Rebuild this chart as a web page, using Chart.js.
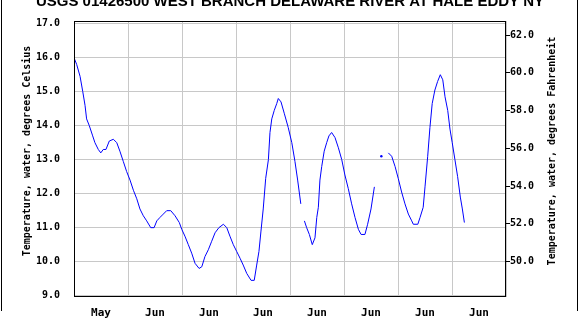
<!DOCTYPE html>
<html><head><meta charset="utf-8">
<script src="https://cdn.jsdelivr.net/npm/chart.js@4/dist/chart.umd.min.js"></script>
<style>html,body{margin:0;padding:0;background:#fff}#wrap{width:580px;height:320px;position:relative}</style>
</head><body><div id="wrap"><canvas id="c"></canvas></div>
<script>
const chartTitle = 'USGS 01426500 WEST BRANCH DELAWARE RIVER AT HALE EDDY NY';
const leftAxisTitle = 'Temperature, water, degrees Celsius';
const rightAxisTitle = 'Temperature, water, degrees Fahrenheit';
const dayLabels = ['May','Jun','Jun','Jun','Jun','Jun','Jun','Jun'];
const dayTickHours = [12,36,60,84,108,132,156,180];
const celsiusTicks = [9,10,11,12,13,14,15,16,17];
const fahrenheitTicks = [50,52,54,56,58,60,62];

// hours since start of the first day (May 31), null = gap in record
const hours = [
  0,1.2,2.7,3.9,4.9,5.6,6.8,8.3,9.3,10.8,11.9,13.0,14.2,15.7,17.5,19.0,20.4,21.9,23.4,
  24.9,26.4,27.9,29.3,30.8,32.3,34.1,35.6,36.8,38.2,39.7,41.2,43.0,44.9,46.8,
  47.9,49.3,50.8,52.3,53.8,55.6,56.8,58.2,59.7,61.2,62.7,64.4,66.4,67.9,69.3,70.8,
  72.3,73.8,75.2,76.8,78.7,80.1,81.2,82.2,83.1,84.1,85.2,86.4,87.1,87.9,89.0,90.1,90.8,
  92.0,93.5,95.2,96.8,98.2,99.4,100.8,
  101.6,
  102.4,103.4,104.6,105.9,107.1,107.9,108.6,109.3,110.1,111.2,112.3,113.3,114.5,116.0,
  117.5,119.0,120.4,121.9,123.4,124.9,126.4,127.6,129.3,130.5,132.0,133.5,
  135.0,
  136.6,
  138.0,
  139.7,141.2,142.7,144.1,145.6,147.1,148.6,150.1,150.8,152.8,153.8,155.2,156.0,157.2,
  158.2,159.2,160.4,161.6,162.8,163.9,164.9,166.1,167.1,168.1,169.3,170.5,171.7,172.6,173.5
];
const tempC = [
  16.0,15.8,15.45,15.0,14.6,14.2,14.0,13.7,13.5,13.3,13.2,13.3,13.3,13.55,13.6,13.5,13.25,12.95,12.65,
  12.4,12.1,11.85,11.55,11.35,11.2,11.0,11.0,11.2,11.3,11.4,11.5,11.5,11.35,11.15,
  10.95,10.75,10.5,10.25,9.95,9.8,9.85,10.15,10.35,10.6,10.85,11.0,11.1,11.0,10.75,10.5,
  10.3,10.1,9.9,9.65,9.45,9.45,9.9,10.3,10.9,11.55,12.45,13.0,13.8,14.2,14.45,14.65,14.8,
  14.7,14.35,13.95,13.5,12.95,12.4,11.7,
  null,
  11.2,11.0,10.8,10.5,10.7,11.3,11.6,12.4,12.8,13.25,13.5,13.7,13.8,13.65,
  13.35,13.0,12.55,12.15,11.7,11.3,10.95,10.8,10.8,11.1,11.55,12.2,
  null,
  13.1,
  null,
  13.2,13.1,12.8,12.45,12.05,11.7,11.4,11.2,11.1,11.1,11.3,11.6,12.2,13.1,
  13.95,14.65,15.05,15.3,15.5,15.35,14.85,14.45,13.9,13.5,13.0,12.5,11.9,11.55,11.15
];

const cMin = 8.96, cMax = 17.08;
const toF = c => c * 1.8 + 32;
const mono = '"DejaVu Sans Mono", "Liberation Mono", monospace';

const decor = {
  id: 'decor',
  afterDraw(chart) {
    const {ctx, chartArea: a} = chart;
    ctx.save();
    ctx.strokeStyle = '#000';
    ctx.lineWidth = 1;
    ctx.strokeRect(a.left + 0.5, a.top + 0.5, a.right - a.left - 1, a.bottom - a.top - 1);
    // outer frame sides
    ctx.beginPath();
    ctx.moveTo(1.5, 0); ctx.lineTo(1.5, 311);
    ctx.moveTo(577.5, 0); ctx.lineTo(577.5, 311);
    ctx.stroke();
    // main title (cropped at top)
    ctx.fillStyle = '#000';
    ctx.font = 'bold 15px "Liberation Sans", Arial, sans-serif';
    ctx.textAlign = 'center';
    ctx.textBaseline = 'alphabetic';
    ctx.fillText(chartTitle, 290, 6);
    // axis titles, both reading bottom-to-top
    ctx.font = 'bold 10px ' + mono;
    ctx.textBaseline = 'middle';
    ctx.save(); ctx.translate(27, 151); ctx.rotate(-Math.PI / 2); ctx.fillText(leftAxisTitle, 0, 0); ctx.restore();
    ctx.save(); ctx.translate(552, 151); ctx.rotate(-Math.PI / 2); ctx.fillText(rightAxisTitle, 0, 0); ctx.restore();
    ctx.restore();
  }
};

new Chart(document.getElementById('c'), {
  type: 'line',
  data: {
    datasets: [{
      data: hours.map((h, i) => ({x: h, y: tempC[i]})),
      borderColor: '#0000ff',
      backgroundColor: '#0000ff',
      borderWidth: 1,
      tension: 0,
      spanGaps: false,
      pointBorderWidth: 0,
      pointRadius: ctx => {
        const i = ctx.dataIndex;
        return (tempC[i] != null && tempC[i - 1] == null && tempC[i + 1] == null) ? 1.2 : 0;
      }
    }]
  },
  options: {
    responsive: true,
    maintainAspectRatio: false,
    animation: false,
    devicePixelRatio: 1,
    layout: {padding: {top: 21, left: 0, right: 0, bottom: 0}},
    plugins: {legend: {display: false}, tooltip: {enabled: false}, title: {display: false}},
    scales: {
      x: {
        type: 'linear', position: 'bottom', min: 0, max: 192,
        afterBuildTicks: s => { s.ticks = dayTickHours.map(v => ({value: v})); },
        afterFit: s => { s.height = 23; },
        grid: {color: '#c8c8c8', offset: true, drawTicks: false},
        border: {display: false},
        ticks: {
          autoSkip: false, maxRotation: 0, padding: 10, color: '#000',
          font: {family: mono, size: 11, weight: 'bold'},
          callback: (v, i) => dayLabels[i]
        }
      },
      y: {
        type: 'linear', position: 'left', min: cMin, max: cMax,
        afterBuildTicks: s => { s.ticks = celsiusTicks.map(v => ({value: v})); },
        afterFit: s => { s.width = 74; },
        grid: {color: '#c8c8c8', drawTicks: false},
        border: {display: false},
        ticks: {
          padding: 14, color: '#000',
          font: {family: mono, size: 10, weight: 'bold'},
          callback: v => v.toFixed(1)
        }
      },
      yF: {
        type: 'linear', position: 'right', min: toF(cMin), max: toF(cMax),
        afterBuildTicks: s => { s.ticks = fahrenheitTicks.map(v => ({value: v})); },
        afterFit: s => { s.width = 74; },
        grid: {drawOnChartArea: false, drawTicks: true, tickLength: 4, color: '#000'},
        border: {display: false},
        ticks: {
          padding: 0, color: '#000',
          font: {family: mono, size: 10, weight: 'bold'},
          callback: v => v.toFixed(1)
        }
      }
    }
  },
  plugins: [decor]
});
</script></body></html>
